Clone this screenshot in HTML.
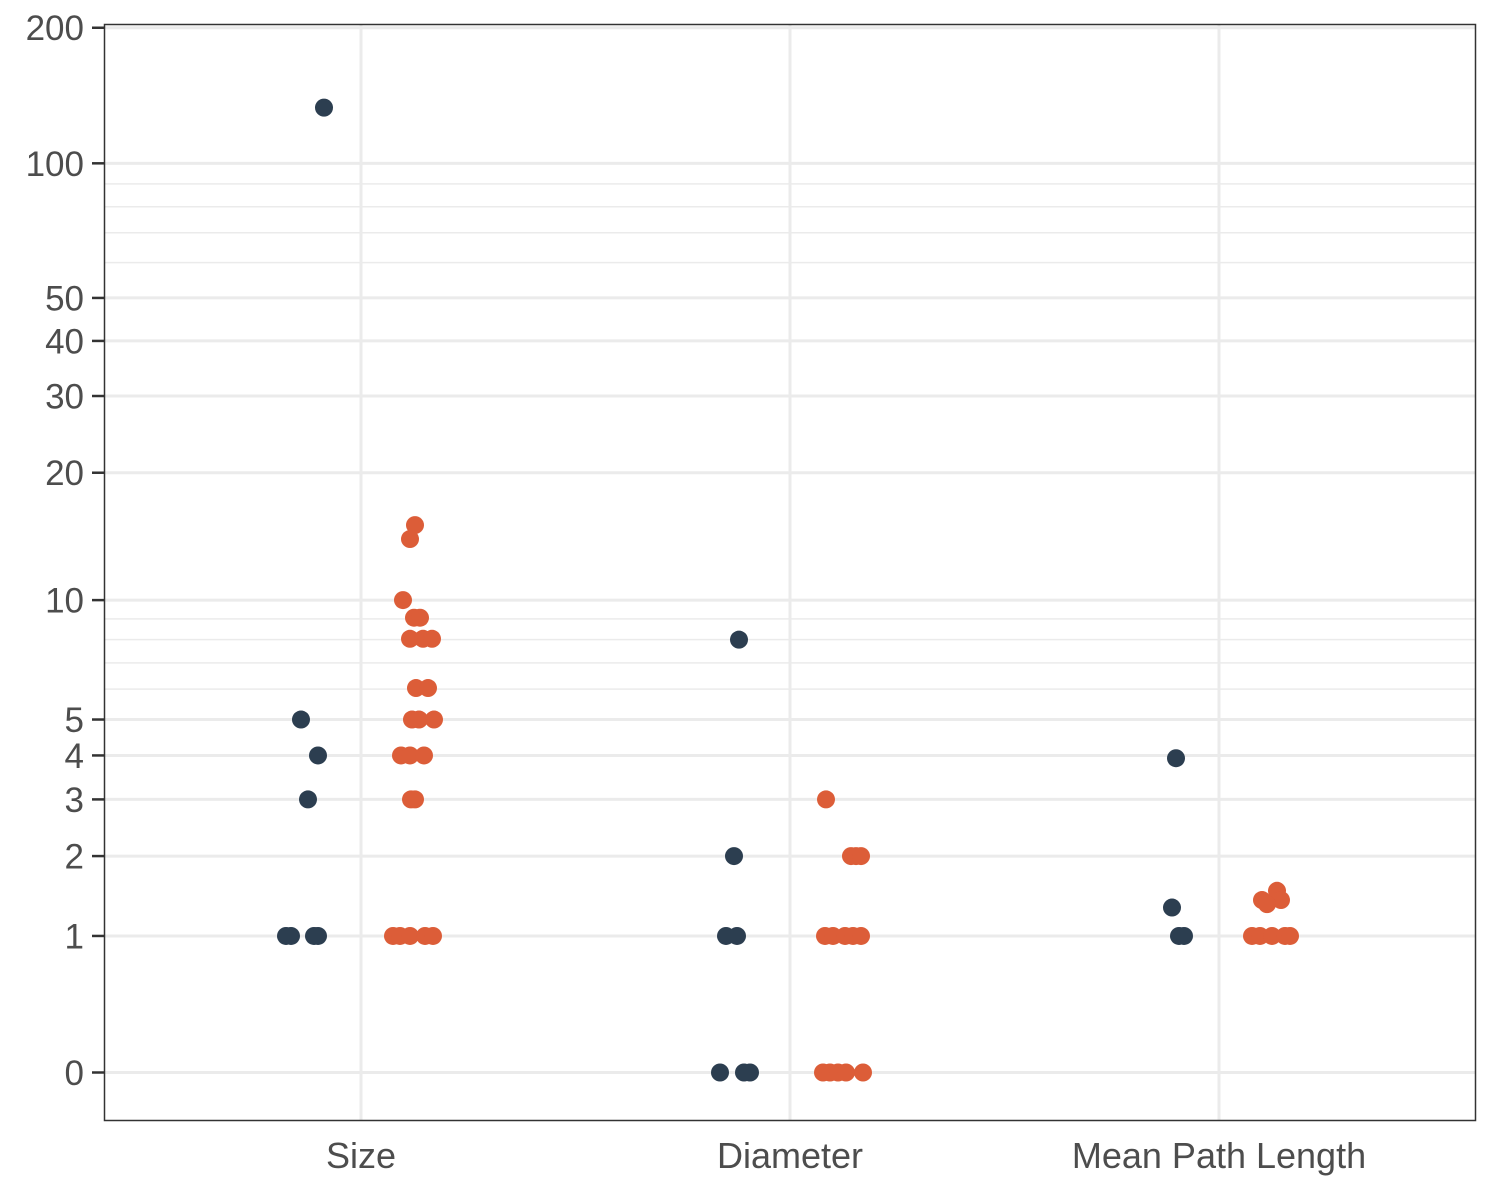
<!DOCTYPE html>
<html><head><meta charset="utf-8"><style>
body{margin:0;background:#fff;}
svg{display:block;font-family:"Liberation Sans",sans-serif;}
</style></head><body>
<svg id="chart" width="1500" height="1200">
<rect x="0" y="0" width="1500" height="1200" fill="#fff"/>
<g id="grid"></g>
<g id="points"></g>
<rect x="104.5" y="24.5" width="1371" height="1096" fill="none" stroke="#333" stroke-width="1.5"/>
<g id="axes"></g>
</svg>
<script>
const categories = ["Size", "Diameter", "Mean Path Length"];
const yTicks = [0, 1, 2, 3, 4, 5, 10, 20, 30, 40, 50, 100, 200];
const yMinor = [6, 7, 8, 9, 60, 70, 80, 90];
// series values: [categoryIndex, value, jitter px]
const darkValues = [
 [0,133,-37],[0,5,-60],[0,4,-43],[0,3,-53],[0,1,-75],[0,1,-70],[0,1,-47],[0,1,-43],
 [1,8,-51],[1,2,-56],[1,1,-64],[1,1,-53],[1,0,-70],[1,0,-46],[1,0,-40],
 [2,3.93,-43],[2,1.31,-47],[2,1,-40],[2,1,-35]
];
const orangeValues = [
 [0,15.1,54],[0,14,49],[0,10,42],[0,9.06,53],[0,9.06,59],[0,8.04,49],[0,8.04,62],[0,8.04,71],
 [0,6.04,55],[0,6.04,67],[0,5,51],[0,5,58],[0,5,73],[0,4,40],[0,4,49],[0,4,63],[0,3,50],[0,3,54],
 [0,1,32],[0,1,39],[0,1,49],[0,1,64],[0,1,72],
 [1,3,36],[1,2,61],[1,2,66],[1,2,71],[1,1,35],[1,1,43],[1,1,55],[1,1,63],[1,1,71],
 [1,0,33],[1,0,40],[1,0,48],[1,0,56],[1,0,73],
 [2,1.515,58],[2,1.40,43],[2,1.40,62],[2,1.35,48],[2,1,33],[2,1,41],[2,1,53],[2,1,66],[2,1,71]
];
const NS="http://www.w3.org/2000/svg";
const plotL=104, plotR=1476;
function yScale(v){return 1072.5 - 197*Math.log(1+v);}
function xScale(i){return 361 + i*429;}
function mk(tag,attrs,parent){const e=document.createElementNS(NS,tag);for(const k in attrs)e.setAttribute(k,attrs[k]);parent.appendChild(e);return e;}
const grid=document.getElementById('grid'), pts=document.getElementById('points'), axes=document.getElementById('axes');
yMinor.forEach(v=>{const y=yScale(v);
 const l=mk('line',{x1:plotL,x2:plotR,y1:y,y2:y,stroke:'#ebebeb','stroke-width':1.5},grid);
 
 
});
yTicks.forEach(v=>{const y=yScale(v);
 const l=mk('line',{x1:plotL,x2:plotR,y1:y,y2:y,stroke:'#ebebeb','stroke-width':3},grid);
 
 
 const t=mk('line',{x1:92,x2:104,y1:y,y2:y,stroke:'#333','stroke-width':2.5},axes);
 
 
 const tx=mk('text',{x:84,y:y+12.5,'text-anchor':'end','font-size':35,fill:'#4d4d4d'},axes);
 tx.textContent=v;
 
 
});
categories.forEach((c,i)=>{const x=xScale(i);
 const l=mk('line',{x1:x,x2:x,y1:24,y2:1121,stroke:'#ebebeb','stroke-width':3},grid);
 
 
 const tx=mk('text',{x:x,y:1168,'text-anchor':'middle','font-size':36,fill:'#4d4d4d'},axes);
 tx.textContent=c;
 
 
});
function draw(arr,color,name){arr.forEach(d=>{
 const c=mk('circle',{cx:xScale(d[0])+d[2],cy:yScale(d[1]),r:9,fill:color},pts);
 
 
});}
draw(darkValues,'#2c3e50','dark-point');
draw(orangeValues,'#dc5d38','orange-point');
</script>
</body></html>
